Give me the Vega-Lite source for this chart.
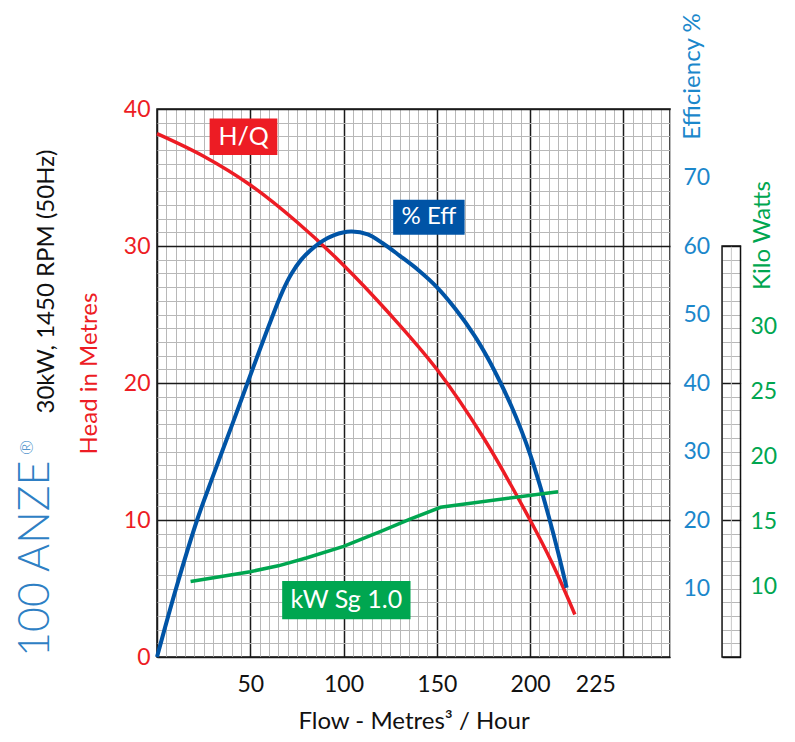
{
  "$schema": "https://vega.github.io/schema/vega-lite/v6.json",
  "width": 513,
  "height": 548,
  "autosize": {"type": "none"},
  "padding": {"left": 157, "top": 109, "right": 125, "bottom": 85},
  "background": "white",
  "config": {
    "view": {"stroke": "#111111", "strokeWidth": 1.5},
    "font": "Lato",
    "axis": {"labelFont": "Lato", "titleFont": "Lato", "titleFontWeight": "normal"}
  },
  "title": {
    "text": "100 ANZE",
    "orient": "left",
    "anchor": "start",
    "frame": "group",
    "fontSize": 43,
    "fontWeight": 300,
    "font": "Lato",
    "color": "#2E7FC4",
    "offset": -40
  },
  "datasets": {
    "hq": [
      {"flow": 0, "head": 38.2},
      {"flow": 25, "head": 36.55},
      {"flow": 50, "head": 34.45},
      {"flow": 75, "head": 31.75},
      {"flow": 100, "head": 28.6},
      {"flow": 125, "head": 25.0},
      {"flow": 150, "head": 21.0},
      {"flow": 175, "head": 16.0},
      {"flow": 200, "head": 10.0},
      {"flow": 212, "head": 6.8},
      {"flow": 224, "head": 3.1}
    ],
    "eff": [
      {"flow": 0, "eff": 0},
      {"flow": 10, "eff": 9.8},
      {"flow": 21.5, "eff": 20},
      {"flow": 30, "eff": 26.4},
      {"flow": 40, "eff": 33.7},
      {"flow": 48.5, "eff": 40},
      {"flow": 60, "eff": 48.4},
      {"flow": 67, "eff": 53.2},
      {"flow": 72, "eff": 55.9},
      {"flow": 77, "eff": 57.9},
      {"flow": 82, "eff": 59.3},
      {"flow": 88, "eff": 60.6},
      {"flow": 95, "eff": 61.6},
      {"flow": 104, "eff": 62.1},
      {"flow": 113, "eff": 61.7},
      {"flow": 121, "eff": 60.4},
      {"flow": 130, "eff": 58.6},
      {"flow": 140, "eff": 56.5},
      {"flow": 150, "eff": 54.0},
      {"flow": 160, "eff": 50.8},
      {"flow": 170, "eff": 47.0},
      {"flow": 177, "eff": 43.8},
      {"flow": 184.2, "eff": 40},
      {"flow": 190, "eff": 36.6},
      {"flow": 195, "eff": 33.3},
      {"flow": 200, "eff": 29.6},
      {"flow": 205, "eff": 25.3},
      {"flow": 210, "eff": 20.5},
      {"flow": 215, "eff": 15.3},
      {"flow": 219.6, "eff": 10.1}
    ],
    "kw": [
      {"flow": 18, "kw": 10.4},
      {"flow": 50, "kw": 11.15},
      {"flow": 65, "kw": 11.6},
      {"flow": 80, "kw": 12.2},
      {"flow": 100, "kw": 13.1},
      {"flow": 120, "kw": 14.25},
      {"flow": 135, "kw": 15.15},
      {"flow": 152, "kw": 16.1},
      {"flow": 215, "kw": 17.3}
    ]
  },
  "layer": [
    {
      "data": {"name": "hq"},
      "mark": {"type": "line", "color": "#ED1C24", "strokeWidth": 3.5, "interpolate": "catmull-rom"},
      "encoding": {
        "x": {"field": "flow", "type": "quantitative", "scale": {"domain": [0, 275], "nice": false},
          "axis": {"values": [0,5,10,15,20,25,30,35,40,45,50,55,60,65,70,75,80,85,90,95,100,105,110,115,120,125,130,135,140,145,150,155,160,165,170,175,180,185,190,195,200,205,210,215,220,225,230,235,240,245,250,255,260,265,270,275], "grid": true, "gridColor": {"condition": {"test": "datum.value % 50 === 0", "value": "#1a1a1a"}, "value": "#b8b8b8"}, "gridWidth": {"condition": {"test": "datum.value % 50 === 0", "value": 1.5}, "value": 1}, "ticks": false, "domain": false, "labelExpr": "datum.value === 235 ? '225' : ((datum.value === 50 || datum.value === 100 || datum.value === 150 || datum.value === 200) ? datum.label : '')", "labelOverlap": false, "labelFontSize": 23, "labelColor": "#111111", "labelPadding": 16, "title": "Flow - Metres³ / Hour", "titleFontSize": 24, "titleColor": "#111111", "titlePadding": 13}},
        "y": {
          "field": "head",
          "type": "quantitative",
          "scale": {"domain": [0, 40], "nice": false},
          "axis": {
            "values": [0,1,2,3,4,5,6,7,8,9,10,11,12,13,14,15,16,17,18,19,20,21,22,23,24,25,26,27,28,29,30,31,32,33,34,35,36,37,38,39,40],
            "grid": true,
            "gridColor": {"condition": {"test": "datum.value % 10 === 0", "value": "#1a1a1a"}, "value": "#b8b8b8"},
            "gridWidth": {"condition": {"test": "datum.value % 10 === 0", "value": 1.5}, "value": 1},
            "ticks": false,
            "domain": false,
            "labelExpr": "datum.value % 10 === 0 ? datum.label : ''",
            "labelOverlap": false,
            "labelColor": "#ED1C24",
            "labelFontSize": 23,
            "labelPadding": 7,
            "title": "Head in Metres",
            "titleColor": "#ED1C24",
            "titleFontSize": 24,
            "titleAngle": -90,
            "titleX": -68,
            "titleY": 264,
            "titleAlign": "center",
            "titleBaseline": "middle"
          }
        }
      }
    },
    {
      "data": {"name": "eff"},
      "mark": {"type": "line", "color": "#0054A6", "strokeWidth": 4, "interpolate": "catmull-rom"},
      "encoding": {
        "x": {"field": "flow", "type": "quantitative", "scale": {"domain": [0, 275], "nice": false},
          "axis": {"values": [0,5,10,15,20,25,30,35,40,45,50,55,60,65,70,75,80,85,90,95,100,105,110,115,120,125,130,135,140,145,150,155,160,165,170,175,180,185,190,195,200,205,210,215,220,225,230,235,240,245,250,255,260,265,270,275], "grid": true, "gridColor": {"condition": {"test": "datum.value % 50 === 0", "value": "#1a1a1a"}, "value": "#b8b8b8"}, "gridWidth": {"condition": {"test": "datum.value % 50 === 0", "value": 1.5}, "value": 1}, "ticks": false, "domain": false, "labelExpr": "datum.value === 235 ? '225' : ((datum.value === 50 || datum.value === 100 || datum.value === 150 || datum.value === 200) ? datum.label : '')", "labelOverlap": false, "labelFontSize": 23, "labelColor": "#111111", "labelPadding": 16, "title": "Flow - Metres³ / Hour", "titleFontSize": 24, "titleColor": "#111111", "titlePadding": 13}},
        "y": {
          "field": "eff",
          "type": "quantitative",
          "scale": {"domain": [0, 80], "nice": false},
          "axis": {
            "orient": "right",
            "values": [10,20,30,40,50,60,70],
            "ticks": false,
            "domain": false,
            "grid": false,
            "labelColor": "#1B87CB",
            "labelFontSize": 23,
            "labelPadding": 13,
            "title": "Efficiency %",
            "titleColor": "#1B87CB",
            "titleFontSize": 24,
            "titleAngle": -90,
            "titleX": 22,
            "titleY": -33,
            "titleAlign": "center",
            "titleBaseline": "middle"
          }
        }
      }
    },
    {
      "data": {"name": "kw"},
      "mark": {"type": "line", "color": "#00A650", "strokeWidth": 3.5},
      "encoding": {
        "x": {"field": "flow", "type": "quantitative", "scale": {"domain": [0, 275], "nice": false},
          "axis": {"values": [0,5,10,15,20,25,30,35,40,45,50,55,60,65,70,75,80,85,90,95,100,105,110,115,120,125,130,135,140,145,150,155,160,165,170,175,180,185,190,195,200,205,210,215,220,225,230,235,240,245,250,255,260,265,270,275], "grid": true, "gridColor": {"condition": {"test": "datum.value % 50 === 0", "value": "#1a1a1a"}, "value": "#b8b8b8"}, "gridWidth": {"condition": {"test": "datum.value % 50 === 0", "value": 1.5}, "value": 1}, "ticks": false, "domain": false, "labelExpr": "datum.value === 235 ? '225' : ((datum.value === 50 || datum.value === 100 || datum.value === 150 || datum.value === 200) ? datum.label : '')", "labelOverlap": false, "labelFontSize": 23, "labelColor": "#111111", "labelPadding": 16, "title": "Flow - Metres³ / Hour", "titleFontSize": 24, "titleColor": "#111111", "titlePadding": 13}},
        "y": {
          "field": "kw",
          "type": "quantitative",
          "scale": {"domain": [4.59, 46.72], "nice": false, "zero": false},
          "axis": {
            "orient": "right",
            "offset": 70.6,
            "values": [10,15,20,25,30],
            "ticks": false,
            "domain": false,
            "grid": false,
            "labelColor": "#00A650",
            "labelFontSize": 23,
            "labelPadding": 9.4,
            "title": "Kilo Watts",
            "titleColor": "#00A650",
            "titleFontSize": 24,
            "titleAngle": -90,
            "titleX": 21.4,
            "titleY": 126,
            "titleAlign": "center",
            "titleBaseline": "middle"
          }
        }
      }
    },
    {
      "data": {"values": [{}]},
      "layer": [
        {
          "mark": {"type": "rule", "color": "#c8c8c8", "strokeWidth": 1},
          "encoding": {
            "x": {"datum": 307.9, "type": "quantitative", "scale": {"domain": [0, 275], "nice": false},
              "axis": {"values": [0,5,10,15,20,25,30,35,40,45,50,55,60,65,70,75,80,85,90,95,100,105,110,115,120,125,130,135,140,145,150,155,160,165,170,175,180,185,190,195,200,205,210,215,220,225,230,235,240,245,250,255,260,265,270,275], "grid": true, "gridColor": {"condition": {"test": "datum.value % 50 === 0", "value": "#1a1a1a"}, "value": "#b8b8b8"}, "gridWidth": {"condition": {"test": "datum.value % 50 === 0", "value": 1.5}, "value": 1}, "ticks": false, "domain": false, "labelExpr": "datum.value === 235 ? '225' : ((datum.value === 50 || datum.value === 100 || datum.value === 150 || datum.value === 200) ? datum.label : '')", "labelOverlap": false, "labelFontSize": 23, "labelColor": "#111111", "labelPadding": 16, "title": "Flow - Metres³ / Hour", "titleFontSize": 24, "titleColor": "#111111", "titlePadding": 13}},
            "y": {
              "datum": 0,
              "type": "quantitative",
              "scale": {"domain": [0, 40], "nice": false},
              "axis": {"orient": "right", "offset": 52, "values": [0,1,2,3,4,5,6,7,8,9,10,11,12,13,14,15,16,17,18,19,20,21,22,23,24,25,26,27,28,29,30], "ticks": true, "tickSize": 18.6, "tickColor": {"condition": {"test": "datum.value % 10 === 0", "value": "#1a1a1a"}, "value": "#b8b8b8"}, "tickWidth": {"condition": {"test": "datum.value % 10 === 0", "value": 1.5}, "value": 1}, "labels": false, "domain": false, "grid": false, "title": "®", "titleColor": "#2E7FC4", "titleFontSize": 18, "titleFontWeight": 300, "titleAngle": -90, "titleX": -695, "titleY": 338, "titleAlign": "center", "titleBaseline": "middle"}
            },
            "y2": {"datum": 30}
          }
        },
        {
          "mark": {"type": "rect", "filled": false, "color": "#111111", "strokeWidth": 1.5},
          "encoding": {
            "x": {"datum": 302.9, "type": "quantitative", "scale": {"domain": [0, 275], "nice": false},
              "axis": {"values": [0,5,10,15,20,25,30,35,40,45,50,55,60,65,70,75,80,85,90,95,100,105,110,115,120,125,130,135,140,145,150,155,160,165,170,175,180,185,190,195,200,205,210,215,220,225,230,235,240,245,250,255,260,265,270,275], "grid": true, "gridColor": {"condition": {"test": "datum.value % 50 === 0", "value": "#1a1a1a"}, "value": "#b8b8b8"}, "gridWidth": {"condition": {"test": "datum.value % 50 === 0", "value": 1.5}, "value": 1}, "ticks": false, "domain": false, "labelExpr": "datum.value === 235 ? '225' : ((datum.value === 50 || datum.value === 100 || datum.value === 150 || datum.value === 200) ? datum.label : '')", "labelOverlap": false, "labelFontSize": 23, "labelColor": "#111111", "labelPadding": 16, "title": "Flow - Metres³ / Hour", "titleFontSize": 24, "titleColor": "#111111", "titlePadding": 13}},
            "x2": {"datum": 312.8},
            "y": {"datum": 0, "type": "quantitative",
              "axis": {"orient": "right", "offset": 52, "values": [0,1,2,3,4,5,6,7,8,9,10,11,12,13,14,15,16,17,18,19,20,21,22,23,24,25,26,27,28,29,30], "ticks": true, "tickSize": 18.6, "tickColor": {"condition": {"test": "datum.value % 10 === 0", "value": "#1a1a1a"}, "value": "#b8b8b8"}, "tickWidth": {"condition": {"test": "datum.value % 10 === 0", "value": 1.5}, "value": 1}, "labels": false, "domain": false, "grid": false, "title": "®", "titleColor": "#2E7FC4", "titleFontSize": 18, "titleFontWeight": 300, "titleAngle": -90, "titleX": -695, "titleY": 338, "titleAlign": "center", "titleBaseline": "middle"}},
            "y2": {"datum": 30}
          }
        }
      ]
    },
    {
      "data": {"values": [{}]},
      "layer": [
        {
          "mark": {"type": "rect", "color": "#ED1C24"},
          "encoding": {
            "x": {"datum": 28.2, "type": "quantitative", "scale": {"domain": [0, 275], "nice": false},
              "axis": {"values": [0,5,10,15,20,25,30,35,40,45,50,55,60,65,70,75,80,85,90,95,100,105,110,115,120,125,130,135,140,145,150,155,160,165,170,175,180,185,190,195,200,205,210,215,220,225,230,235,240,245,250,255,260,265,270,275], "grid": true, "gridColor": {"condition": {"test": "datum.value % 50 === 0", "value": "#1a1a1a"}, "value": "#b8b8b8"}, "gridWidth": {"condition": {"test": "datum.value % 50 === 0", "value": 1.5}, "value": 1}, "ticks": false, "domain": false, "labelExpr": "datum.value === 235 ? '225' : ((datum.value === 50 || datum.value === 100 || datum.value === 150 || datum.value === 200) ? datum.label : '')", "labelOverlap": false, "labelFontSize": 23, "labelColor": "#111111", "labelPadding": 16, "title": "Flow - Metres³ / Hour", "titleFontSize": 24, "titleColor": "#111111", "titlePadding": 13}},
            "x2": {"datum": 64.5},
            "y": {
              "datum": 36.65,
              "type": "quantitative",
              "scale": {"domain": [0, 40], "nice": false},
              "axis": {"orient": "left", "labels": false, "ticks": false, "domain": false, "grid": false, "title": "30kW, 1450 RPM (50Hz)", "titleColor": "#111111", "titleFontSize": 24, "titleAngle": -90, "titleX": -111, "titleY": 172, "titleAlign": "center", "titleBaseline": "middle"}
            },
            "y2": {"datum": 39.3}
          }
        },
        {
          "mark": {"type": "text", "text": "H/Q", "color": "white", "fontSize": 25, "font": "Lato"},
          "encoding": {
            "x": {"datum": 46.4, "type": "quantitative",
              "axis": {"values": [0,5,10,15,20,25,30,35,40,45,50,55,60,65,70,75,80,85,90,95,100,105,110,115,120,125,130,135,140,145,150,155,160,165,170,175,180,185,190,195,200,205,210,215,220,225,230,235,240,245,250,255,260,265,270,275], "grid": true, "gridColor": {"condition": {"test": "datum.value % 50 === 0", "value": "#1a1a1a"}, "value": "#b8b8b8"}, "gridWidth": {"condition": {"test": "datum.value % 50 === 0", "value": 1.5}, "value": 1}, "ticks": false, "domain": false, "labelExpr": "datum.value === 235 ? '225' : ((datum.value === 50 || datum.value === 100 || datum.value === 150 || datum.value === 200) ? datum.label : '')", "labelOverlap": false, "labelFontSize": 23, "labelColor": "#111111", "labelPadding": 16, "title": "Flow - Metres³ / Hour", "titleFontSize": 24, "titleColor": "#111111", "titlePadding": 13}},
            "y": {"datum": 37.95, "type": "quantitative"}
          }
        },
        {
          "mark": {"type": "rect", "color": "#0054A6"},
          "encoding": {
            "x": {"datum": 126.6, "type": "quantitative",
              "axis": {"values": [0,5,10,15,20,25,30,35,40,45,50,55,60,65,70,75,80,85,90,95,100,105,110,115,120,125,130,135,140,145,150,155,160,165,170,175,180,185,190,195,200,205,210,215,220,225,230,235,240,245,250,255,260,265,270,275], "grid": true, "gridColor": {"condition": {"test": "datum.value % 50 === 0", "value": "#1a1a1a"}, "value": "#b8b8b8"}, "gridWidth": {"condition": {"test": "datum.value % 50 === 0", "value": 1.5}, "value": 1}, "ticks": false, "domain": false, "labelExpr": "datum.value === 235 ? '225' : ((datum.value === 50 || datum.value === 100 || datum.value === 150 || datum.value === 200) ? datum.label : '')", "labelOverlap": false, "labelFontSize": 23, "labelColor": "#111111", "labelPadding": 16, "title": "Flow - Metres³ / Hour", "titleFontSize": 24, "titleColor": "#111111", "titlePadding": 13}},
            "x2": {"datum": 164.9},
            "y": {"datum": 30.83, "type": "quantitative"},
            "y2": {"datum": 33.38}
          }
        },
        {
          "mark": {"type": "text", "text": "% Eff", "color": "white", "fontSize": 24, "font": "Lato"},
          "encoding": {
            "x": {"datum": 145.8, "type": "quantitative",
              "axis": {"values": [0,5,10,15,20,25,30,35,40,45,50,55,60,65,70,75,80,85,90,95,100,105,110,115,120,125,130,135,140,145,150,155,160,165,170,175,180,185,190,195,200,205,210,215,220,225,230,235,240,245,250,255,260,265,270,275], "grid": true, "gridColor": {"condition": {"test": "datum.value % 50 === 0", "value": "#1a1a1a"}, "value": "#b8b8b8"}, "gridWidth": {"condition": {"test": "datum.value % 50 === 0", "value": 1.5}, "value": 1}, "ticks": false, "domain": false, "labelExpr": "datum.value === 235 ? '225' : ((datum.value === 50 || datum.value === 100 || datum.value === 150 || datum.value === 200) ? datum.label : '')", "labelOverlap": false, "labelFontSize": 23, "labelColor": "#111111", "labelPadding": 16, "title": "Flow - Metres³ / Hour", "titleFontSize": 24, "titleColor": "#111111", "titlePadding": 13}},
            "y": {"datum": 32.1, "type": "quantitative"}
          }
        },
        {
          "mark": {"type": "rect", "color": "#00A650"},
          "encoding": {
            "x": {"datum": 67.1, "type": "quantitative",
              "axis": {"values": [0,5,10,15,20,25,30,35,40,45,50,55,60,65,70,75,80,85,90,95,100,105,110,115,120,125,130,135,140,145,150,155,160,165,170,175,180,185,190,195,200,205,210,215,220,225,230,235,240,245,250,255,260,265,270,275], "grid": true, "gridColor": {"condition": {"test": "datum.value % 50 === 0", "value": "#1a1a1a"}, "value": "#b8b8b8"}, "gridWidth": {"condition": {"test": "datum.value % 50 === 0", "value": 1.5}, "value": 1}, "ticks": false, "domain": false, "labelExpr": "datum.value === 235 ? '225' : ((datum.value === 50 || datum.value === 100 || datum.value === 150 || datum.value === 200) ? datum.label : '')", "labelOverlap": false, "labelFontSize": 23, "labelColor": "#111111", "labelPadding": 16, "title": "Flow - Metres³ / Hour", "titleFontSize": 24, "titleColor": "#111111", "titlePadding": 13}},
            "x2": {"datum": 135.9},
            "y": {"datum": 2.75, "type": "quantitative"},
            "y2": {"datum": 5.55}
          }
        },
        {
          "mark": {"type": "text", "text": "kW Sg 1.0", "color": "white", "fontSize": 25, "font": "Lato"},
          "encoding": {
            "x": {"datum": 101.5, "type": "quantitative",
              "axis": {"values": [0,5,10,15,20,25,30,35,40,45,50,55,60,65,70,75,80,85,90,95,100,105,110,115,120,125,130,135,140,145,150,155,160,165,170,175,180,185,190,195,200,205,210,215,220,225,230,235,240,245,250,255,260,265,270,275], "grid": true, "gridColor": {"condition": {"test": "datum.value % 50 === 0", "value": "#1a1a1a"}, "value": "#b8b8b8"}, "gridWidth": {"condition": {"test": "datum.value % 50 === 0", "value": 1.5}, "value": 1}, "ticks": false, "domain": false, "labelExpr": "datum.value === 235 ? '225' : ((datum.value === 50 || datum.value === 100 || datum.value === 150 || datum.value === 200) ? datum.label : '')", "labelOverlap": false, "labelFontSize": 23, "labelColor": "#111111", "labelPadding": 16, "title": "Flow - Metres³ / Hour", "titleFontSize": 24, "titleColor": "#111111", "titlePadding": 13}},
            "y": {"datum": 4.15, "type": "quantitative"}
          }
        }
      ]
    }
  ],
  "resolve": {"scale": {"y": "independent"}, "axis": {"y": "independent"}}
}
